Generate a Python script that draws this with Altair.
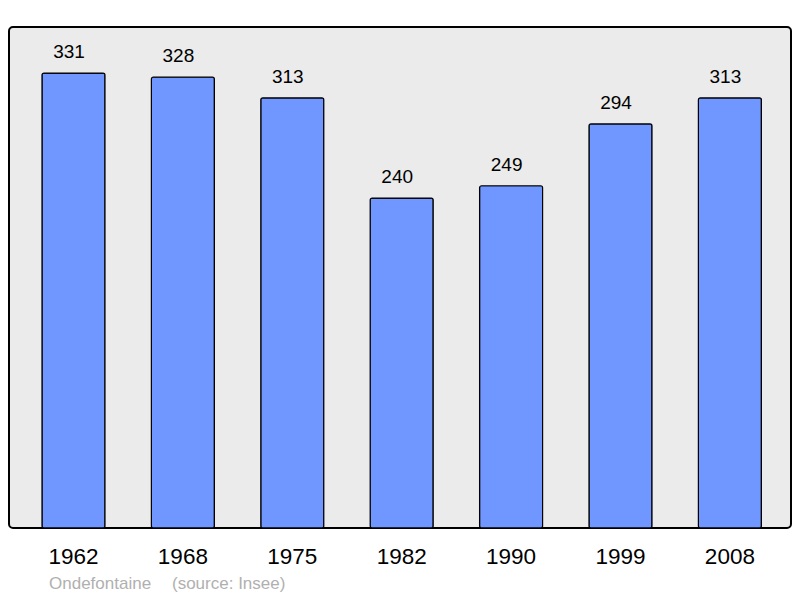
import altair as alt
import pandas as pd

years = ["1962", "1968", "1975", "1982", "1990", "1999", "2008"]
population = [331, 328, 313, 240, 249, 294, 313]
caption_place = "Ondefontaine"
caption_source = "(source: Insee)"

df = pd.DataFrame({"year": years, "pop": population})

x = alt.X("year:N", sort=years,
          scale=alt.Scale(paddingInner=0.424, paddingOuter=0.286, align=0.527),
          axis=alt.Axis(title=None, domain=False, ticks=False, labelAngle=0,
                        labelFontSize=22.5, labelFont="Liberation Sans",
                        labelColor="black", labelPadding=17))
y = alt.Y("pop:Q", scale=alt.Scale(domain=[0, 364.5], nice=False, zero=True),
          axis=None)

bars = alt.Chart(df).mark_bar(color="#7096ff", stroke="black", strokeWidth=1.2,
                              cornerRadius=2).encode(x=x, y=y)
labels = alt.Chart(df).mark_text(baseline="bottom", dy=-11, dx=-4.5, fontSize=19,
                                 font="Liberation Sans", color="black").encode(
    x=x, y=y, text="pop:Q")
cap1 = alt.Chart(pd.DataFrame({"t": [caption_place]})).mark_text(
    align="left", baseline="middle", fontSize=17, font="Liberation Sans",
    color="#b0b0b0").encode(x=alt.value(40), y=alt.value(557), text="t:N")
cap2 = alt.Chart(pd.DataFrame({"t": [caption_source]})).mark_text(
    align="left", baseline="middle", fontSize=17, font="Liberation Sans",
    color="#b0b0b0").encode(x=alt.value(163), y=alt.value(557), text="t:N")

chart = alt.layer(bars, labels, cap1, cap2).properties(
    width=782, height=501,
    autosize=alt.AutoSizeParams(type="none"),
    padding={"left": 1, "top": 19, "right": 1, "bottom": 70},
).configure_view(fill="#ebebeb", stroke="black", strokeWidth=2, cornerRadius=4)

chart.save("out.html", embed_options={"renderer": "svg", "actions": False})
